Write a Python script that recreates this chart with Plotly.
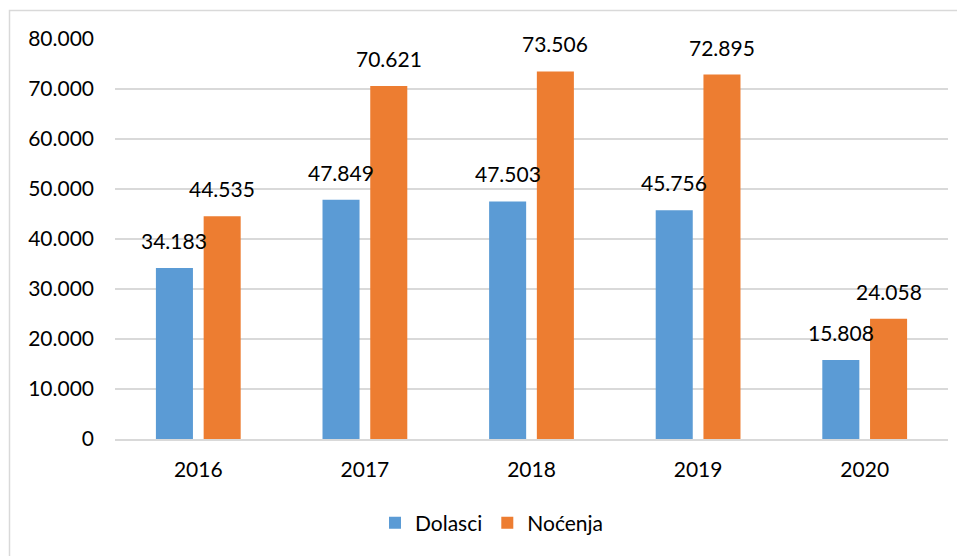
import plotly.graph_objects as go

years = ["2016", "2017", "2018", "2019", "2020"]
dolasci = [34183, 47849, 47503, 45756, 15808]
nocenja = [44535, 70621, 73506, 72895, 24058]
series_names = ["Dolasci", "Noćenja"]
colors = ["#5B9BD5", "#ED7D31"]
y_ticks = [0, 10000, 20000, 30000, 40000, 50000, 60000, 70000, 80000]

FONT = "Lato, Open Sans, sans-serif"
FS = 21


def fmt(v):
    return f"{v:,}".replace(",", ".")


fig = go.Figure()
for name, vals, col in zip(series_names, [dolasci, nocenja], colors):
    fig.add_trace(go.Bar(x=years, y=vals, name=name, marker=dict(color=col, line=dict(width=0))))

annotations = []
for vals, shift in [(dolasci, -23.9), (nocenja, 23.9)]:
    for i, v in enumerate(vals):
        annotations.append(dict(x=i, y=v, xref="x", yref="y", text=fmt(v), showarrow=False,
                                xanchor="center", yanchor="bottom", xshift=shift, yshift=13,
                                font=dict(family=FONT, size=FS, color="#000000")))

# page body has an 8px margin, so the figure is placed at (8, 8)
OFF = 8
W, H = 965 - OFF, 556 - OFF
L, T = 115 - OFF, 39 - OFF
pw, ph = 833, 400
R, B = W - L - pw, H - T - ph


def px_to_paper_x(px):
    return (px - OFF - L) / pw


def px_to_paper_y(py):
    return (T + ph - (py - OFF)) / ph


fig.update_layout(
    width=W, height=H,
    margin=dict(l=L, r=R, t=T, b=B, autoexpand=False),
    paper_bgcolor="white", plot_bgcolor="white",
    separators=",.",
    barmode="group", bargap=0.427, bargroupgap=0.224,
    font=dict(family=FONT, size=FS, color="#000000"),
    showlegend=True,
    legend=dict(orientation="h", x=px_to_paper_x(492), xanchor="center",
                y=px_to_paper_y(523), yanchor="middle",
                font=dict(family=FONT, size=FS, color="#000000"),
                itemwidth=30, tracegroupgap=0),
    annotations=annotations,
    shapes=[dict(type="rect", xref="paper", yref="paper",
                 x0=px_to_paper_x(9.5), x1=px_to_paper_x(975),
                 y0=px_to_paper_y(580), y1=px_to_paper_y(10.5),
                 line=dict(color="#D9D9D9", width=1.5), fillcolor="rgba(0,0,0,0)", layer="below")],
)
fig.update_xaxes(type="category", range=[-0.5, 4.5], showgrid=False, showline=True,
                 linecolor="#D9D9D9", linewidth=1.5,
                 ticks="", ticklabelstandoff=11, automargin=False,
                 tickfont=dict(family=FONT, size=FS, color="#000000"))
fig.update_yaxes(range=[0, 80000], tickvals=y_ticks, tickformat=",d", automargin=False,
                 showgrid=True, gridcolor="#D9D9D9", gridwidth=1.5,
                 zeroline=False, showline=False, ticks="", ticklabelstandoff=20,
                 tickfont=dict(family=FONT, size=FS, color="#000000"))

fig.write_html("out.html")
